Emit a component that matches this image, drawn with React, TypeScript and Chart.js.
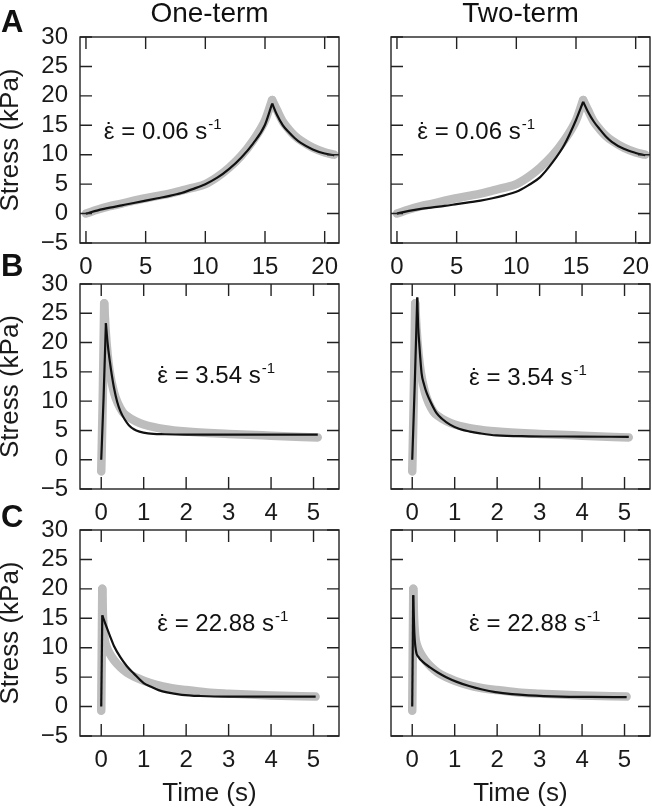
import React, { useEffect, useRef } from "react";
import { Chart, registerables } from "chart.js";
Chart.register(...registerables);

const FONT = "'Liberation Sans', Arial, Helvetica, sans-serif";

// ---------- tick labels ----------
const yTicks = [-5, 0, 5, 10, 15, 20, 25, 30];
const xTicksA = [0, 5, 10, 15, 20];
const xTicksBC = [0, 1, 2, 3, 4, 5];

// ---------- Row A: strain rate 0.06 s^-1 ----------
const tA_load = [0, 1, 2, 3, 4, 5, 6, 7, 8, 9, 10, 11, 12, 13, 14, 15, 15.6];
const expA_load = [0, 0.7, 1.25, 1.7, 2.2, 2.6, 3.0, 3.4, 3.9, 4.4, 5.0, 6.2, 7.8, 9.8, 12.4, 15.8, 19.3];
const oneA_load = [0, 0.55, 1.0, 1.4, 1.8, 2.2, 2.6, 3.0, 3.5, 4.2, 5.0, 6.1, 7.6, 9.5, 11.9, 15.1, 18.7];
const twoA_load = [0, 0.45, 0.8, 1.05, 1.3, 1.6, 1.9, 2.2, 2.6, 3.1, 3.7, 4.8, 6.2, 8.6, 11.6, 15.9, 19.0];
const tA_relax = [15.6, 16, 16.5, 17, 17.5, 18, 19, 20, 20.8];
const expA_relax = [19.3, 17.6, 15.6, 14.3, 13.2, 12.4, 11.2, 10.4, 10.0];
const oneA_relax = [18.7, 16.8, 15.0, 13.8, 12.8, 12.0, 10.9, 10.2, 9.9];
const twoA_relax = [19.0, 17.3, 15.6, 14.3, 13.1, 12.2, 11.0, 10.3, 9.9];

// ---------- Row B: strain rate 3.54 s^-1 ----------
const tB_expLoad = [0, 0.035, 0.07];
const expB_load = [-2.0, 10, 26.7];
const tB_expRelax = [0.07, 0.1, 0.15, 0.2, 0.3, 0.4, 0.5, 0.6, 0.8, 1.0, 1.5, 2, 3, 4, 5.1];
const expB_relax = [26.7, 22.5, 18.0, 15.0, 11.5, 9.5, 8.2, 7.5, 6.6, 6.0, 5.2, 4.8, 4.4, 4.1, 3.8];
const tB1_load = [0, 0.055, 0.11];
const oneB_load = [0, 10.5, 23.3];
const tB1_relax = [0.11, 0.15, 0.2, 0.25, 0.3, 0.375, 0.45, 0.55, 0.65, 0.77, 0.9, 1.1, 1.5, 2, 3, 4, 5.1];
const oneB_relax = [23.3, 19.9, 16.9, 14.4, 12.3, 9.9, 8.3, 6.9, 5.9, 5.2, 4.8, 4.5, 4.35, 4.3, 4.3, 4.3, 4.3];
const tB2_load = [0, 0.06, 0.118];
const twoB_load = [0, 13, 27.7];
const tB2_relax = [0.118, 0.14, 0.165, 0.22, 0.28, 0.34, 0.45, 0.57, 0.7, 0.89, 1.1, 1.36, 1.6, 1.98, 2.77, 4, 5.1];
const twoB_relax = [27.7, 22.7, 19.9, 14.8, 12.8, 11.4, 9.6, 8.0, 7.0, 6.0, 5.3, 4.8, 4.5, 4.15, 4.0, 3.95, 3.9];

// ---------- Row C: strain rate 22.88 s^-1 ----------
const tC_expLoad = [0, 0.012, 0.025];
const expC_load = [-0.7, 9, 20.0];
const tC_expRelax = [0.025, 0.04, 0.07, 0.12, 0.2, 0.3, 0.45, 0.6, 0.8, 1.0, 1.3, 1.6, 2, 2.5, 3, 4, 5.05];
const expC_relax = [20, 15.5, 12, 10.3, 9.0, 7.9, 6.7, 5.8, 5.0, 4.4, 3.7, 3.2, 2.8, 2.4, 2.2, 1.9, 1.7];
const tC1_load = [0, 0.025];
const oneC_load = [0, 15.5];
const tC1_relax = [0.025, 0.1, 0.2, 0.3, 0.45, 0.6, 0.77, 1.0, 1.16, 1.35, 1.55, 1.9, 2.33, 3, 4, 5.05];
const oneC_relax = [15.5, 14.0, 12.1, 10.3, 8.4, 6.9, 5.6, 4.0, 3.4, 2.8, 2.4, 2.0, 1.8, 1.7, 1.7, 1.7];
const tC2_load = [0, 0.023];
const twoC_load = [0, 18.9];
const tC2_relax = [0.023, 0.05, 0.085, 0.15, 0.25, 0.41, 0.6, 0.8, 1.05, 1.34, 1.65, 1.96, 2.35, 2.74, 3.5, 4.2, 5.05];
const twoC_relax = [18.9, 12.5, 9.6, 8.4, 7.6, 6.7, 5.8, 5.0, 4.2, 3.5, 2.9, 2.45, 2.1, 1.9, 1.7, 1.65, 1.6];

const rates = ["0.06", "3.54", "22.88"];
const columnTitles = ["One-term", "Two-term"];
const panelLetters = ["A", "B", "C"];

type Series = [number[], number[]];
const pts = ([t, s]: Series) => t.map((x, i) => ({ x, y: s[i] }));

const rows = [
  { xMin: -0.5, xMax: 21.2, xTicks: xTicksA, exp: [[tA_load, expA_load], [tA_relax, expA_relax]] as Series[],
    fits: [[[tA_load, oneA_load], [tA_relax, oneA_relax]], [[tA_load, twoA_load], [tA_relax, twoA_relax]]] as Series[][],
    ann: [{ x: 1.5, y: 14.1 }, { x: 1.7, y: 14.1 }] },
  { xMin: -0.5, xMax: 5.6, xTicks: xTicksBC, exp: [[tB_expLoad, expB_load], [tB_expRelax, expB_relax]] as Series[],
    fits: [[[tB1_load, oneB_load], [tB1_relax, oneB_relax]], [[tB2_load, twoB_load], [tB2_relax, twoB_relax]]] as Series[][],
    ann: [{ x: 1.32, y: 14.5 }, { x: 1.34, y: 14.2 }] },
  { xMin: -0.5, xMax: 5.6, xTicks: xTicksBC, exp: [[tC_expLoad, expC_load], [tC_expRelax, expC_relax]] as Series[],
    fits: [[[tC1_load, oneC_load], [tC1_relax, oneC_relax]], [[tC2_load, twoC_load], [tC2_relax, twoC_relax]]] as Series[][],
    ann: [{ x: 1.32, y: 14.3 }, { x: 1.34, y: 14.3 }] },
];

const colGeom = [
  { left: 0, width: 341, yW: 80 },
  { left: 341, width: 311, yW: 50 },
];
const rowGeom = [
  { top: 17, height: 261, xH: 35 },
  { top: 264, height: 260, xH: 35 },
  { top: 510, height: 301, xH: 75 },
];

function makePlugin(xTicks: number[], ann: { x: number; y: number }, rate: string) {
  return {
    id: "frameAnn",
    afterDatasetsDraw(chart: any) {
      const { ctx, chartArea, scales } = chart;
      const { left, right, top, bottom } = chartArea;
      const L = 12;
      ctx.save();
      ctx.strokeStyle = "#222";
      ctx.lineWidth = 1.4;
      ctx.beginPath();
      for (const v of xTicks) {
        const px = scales.x.getPixelForValue(v);
        ctx.moveTo(px, bottom); ctx.lineTo(px, bottom - L);
        ctx.moveTo(px, top); ctx.lineTo(px, top + L);
      }
      for (const v of yTicks) {
        const py = scales.y.getPixelForValue(v);
        ctx.moveTo(left, py); ctx.lineTo(left + L, py);
        ctx.moveTo(right, py); ctx.lineTo(right - L, py);
      }
      ctx.stroke();
      ctx.strokeRect(left, top, right - left, bottom - top);
      // annotation: strain-rate label
      const px = scales.x.getPixelForValue(ann.x);
      const py = scales.y.getPixelForValue(ann.y) + 8.5;
      ctx.fillStyle = "#111";
      ctx.textAlign = "left";
      ctx.textBaseline = "alphabetic";
      ctx.font = `24px ${FONT}`;
      const main = `\u03B5 = ${rate} s`;
      ctx.fillText(main, px, py);
      const epsW = ctx.measureText("\u03B5").width;
      const w = ctx.measureText(main).width;
      ctx.textAlign = "center";
      ctx.fillText("\u02D9", px + epsW / 2 + 0.5, py);
      ctx.textAlign = "left";
      ctx.font = `15px ${FONT}`;
      ctx.fillText("-1", px + w + 1, py - 10);
      ctx.restore();
    },
  };
}

export default function App() {
  const refs = useRef<(HTMLCanvasElement | null)[]>([]);

  useEffect(() => {
    const charts: Chart[] = [];
    rows.forEach((row, r) => {
      [0, 1].forEach((c) => {
        const canvas = refs.current[r * 2 + c];
        if (!canvas) return;
        const showY = c === 0;
        const isBottom = r === 2;
        const datasets: any[] = [];
        row.fits[c].forEach((s) =>
          datasets.push({ data: pts(s), borderColor: "#111", borderWidth: 2.2, order: 1 })
        );
        row.exp.forEach((s) =>
          datasets.push({ data: pts(s), borderColor: "#bdbdbd", borderWidth: 8.5, borderCapStyle: "round", borderJoinStyle: "round", order: 2 })
        );
        const chart = new Chart(canvas, {
          type: "line",
          data: { datasets },
          plugins: [makePlugin(row.xTicks, row.ann[c], rates[r]) as any],
          options: {
            animation: false,
            responsive: false,
            devicePixelRatio: 1,
            layout: { padding: { top: 20, right: 2, bottom: 0, left: 0 } },
            elements: {
              point: { radius: 0, hoverRadius: 0 },
              line: { cubicInterpolationMode: "monotone", fill: false },
            },
            plugins: { legend: { display: false }, tooltip: { enabled: false } },
            scales: {
              x: {
                type: "linear",
                min: row.xMin,
                max: row.xMax,
                afterBuildTicks: (s: any) => { s.ticks = row.xTicks.map((v) => ({ value: v })); },
                afterFit: (s: any) => { s.height = rowGeom[r].xH; s.paddingLeft = 0; s.paddingRight = 0; },
                grid: { display: false, drawTicks: false },
                border: { display: false },
                ticks: { padding: 10, color: "#1a1a1a", font: { family: FONT, size: 24 }, maxRotation: 0, autoSkip: false },
                title: { display: isBottom, text: "Time (s)", color: "#1a1a1a", font: { family: FONT, size: 26, lineHeight: 1 }, padding: { top: 0, bottom: 4 } },
              },
              y: {
                type: "linear",
                min: -5,
                max: 30,
                afterBuildTicks: (s: any) => { s.ticks = yTicks.map((v) => ({ value: v })); },
                afterFit: (s: any) => { s.width = colGeom[c].yW; s.paddingTop = 0; s.paddingBottom = 0; },
                grid: { display: false, drawTicks: false },
                border: { display: false },
                ticks: { display: showY, autoSkip: false, padding: 12, color: "#1a1a1a", font: { family: FONT, size: 24 },
                  callback: (v: any) => String(v).replace("-", "\u2212") },
                title: { display: showY, text: "Stress (kPa)", color: "#1a1a1a", font: { family: FONT, size: 26, lineHeight: 0.8 }, padding: 0 },
              },
            },
          } as any,
        });
        charts.push(chart);
      });
    });
    return () => charts.forEach((ch) => ch.destroy());
  }, []);

  const canvases: React.ReactNode[] = [];
  rowGeom.forEach((rg, r) => {
    colGeom.forEach((cg, c) => {
      canvases.push(
        <canvas
          key={`${r}-${c}`}
          ref={(el) => { refs.current[r * 2 + c] = el; }}
          width={cg.width}
          height={rg.height}
          style={{ position: "absolute", left: cg.left, top: rg.top, width: cg.width, height: rg.height, display: "block" }}
        />
      );
    });
  });

  const letterTops = [6, 250, 501];
  return (
    <div style={{ position: "fixed", left: 0, top: 0, width: 652, height: 811, background: "#fff", overflow: "hidden", fontFamily: FONT, color: "#111" }}>
      {canvases}
      {columnTitles.map((t, i) => (
        <div key={t} style={{ position: "absolute", top: -1, left: i === 0 ? 80 : 391, width: 259, textAlign: "center", fontSize: 28, lineHeight: "28px", whiteSpace: "nowrap" }}>{t}</div>
      ))}
      {panelLetters.map((t, i) => (
        <div key={t} style={{ position: "absolute", top: letterTops[i], left: 1, fontSize: 31, lineHeight: "31px", fontWeight: "bold" }}>{t}</div>
      ))}
    </div>
  );
}
